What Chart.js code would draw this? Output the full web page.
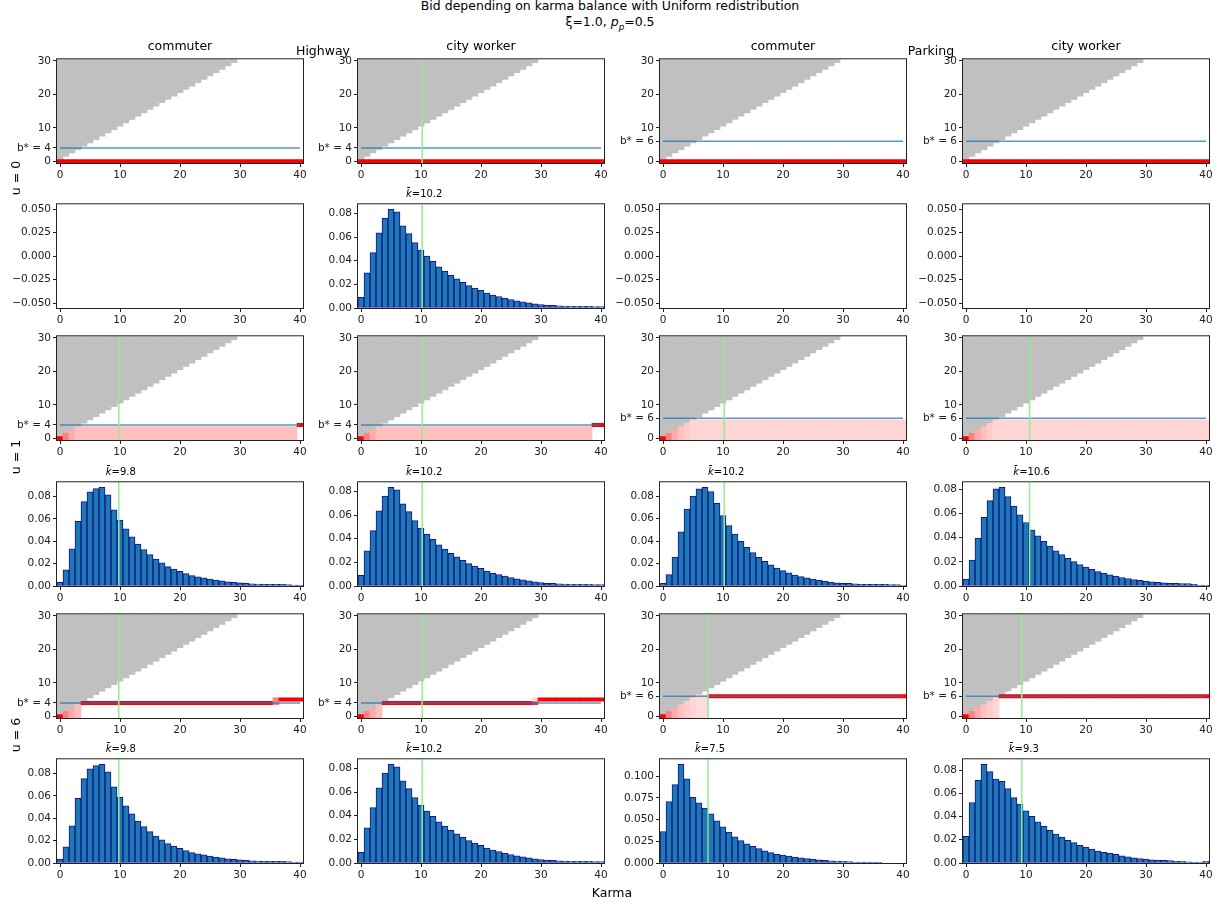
<!DOCTYPE html>
<html>
<head>
<meta charset="utf-8">
<script src="https://cdn.jsdelivr.net/npm/chart.js@4"></script>
<style>
  body { margin: 0; background: #fff; font-family: "DejaVu Sans", sans-serif; }
  #fig { position: relative; width: 1226px; height: 908px; overflow: hidden; }
  #fig canvas { position: absolute; }
  .txt { position: absolute; white-space: nowrap; color: #000; line-height: 1; z-index: 2; }
</style>
</head>
<body>
<div id="fig"></div>
<script>
// ---- data ----
const karma = [0, 1, 2, 3, 4, 5, 6, 7, 8, 9, 10, 11, 12, 13, 14, 15, 16, 17, 18, 19, 20,
               21, 22, 23, 24, 25, 26, 27, 28, 29, 30, 31, 32, 33, 34, 35, 36, 37, 38, 39, 40];
const maxBid = 30;
const xTicks = [0, 10, 20, 30, 40];
const groups = ['Highway', 'Parking'];
const userTypes = ['commuter', 'city worker', 'commuter', 'city worker'];
const urgencies = [0, 1, 6];
const bStar = [4, 4, 6, 6];

// mean karma (green line), null when there is no distribution
const meanKarma = [
  [null, 10.2, null, null],
  [9.8, 10.2, 10.2, 10.6],
  [9.8, 10.2, 7.5, 9.3]
];

// policy runs: [karma from, karma to, bid from, bid to, probability]
const policyU0 = [[0, 40, 0, 0, 1]];
const policyHighwayCommuterU1 = [[0, 0, 0, 0, 1], [1, 1, 0, 1, 0.5], [2, 2, 0, 2, 0.33], [3, 39, 0, 3, 0.25], [40, 40, 4, 4, 1]];
const policyHighwayCityWorkerU1 = [[0, 0, 0, 0, 1], [1, 1, 0, 1, 0.5], [2, 2, 0, 2, 0.33], [3, 38, 0, 3, 0.25], [39, 40, 4, 4, 1]];
const policyParkingU1 = [[0, 0, 0, 0, 1], [1, 1, 0, 1, 0.5], [2, 2, 0, 2, 0.33], [3, 3, 0, 3, 0.25], [4, 4, 0, 4, 0.2], [5, 40, 0, 5, 0.17]];
const policyHighwayCommuterU6 = [[0, 0, 0, 0, 1], [1, 1, 0, 1, 0.5], [2, 2, 0, 2, 0.33], [3, 3, 0, 3, 0.25], [4, 35, 4, 4, 1], [36, 36, 4, 5, 0.5], [37, 40, 5, 5, 1]];
const policyHighwayCityWorkerU6 = [[0, 0, 0, 0, 1], [1, 1, 0, 1, 0.5], [2, 2, 0, 2, 0.33], [3, 3, 0, 3, 0.25], [4, 28, 4, 4, 1], [29, 29, 4, 4, 0.85], [29, 29, 5, 5, 0.15], [30, 40, 5, 5, 1]];
const policyParkingCommuterU6 = [[0, 0, 0, 0, 1], [1, 1, 0, 1, 0.5], [2, 2, 0, 2, 0.33], [3, 3, 0, 3, 0.25], [4, 4, 0, 4, 0.2], [5, 5, 0, 5, 0.17], [6, 7, 0, 6, 0.14], [8, 40, 6, 6, 1]];
const policyParkingCityWorkerU6 = [[0, 0, 0, 0, 1], [1, 1, 0, 1, 0.5], [2, 2, 0, 2, 0.33], [3, 3, 0, 3, 0.25], [4, 4, 0, 4, 0.2], [5, 5, 0, 5, 0.17], [6, 40, 6, 6, 1]];

// karma distributions (one value per karma level)
const distHighwayCommuter = [0.0035, 0.0144, 0.0332, 0.0578, 0.0753, 0.0840, 0.0871, 0.0882, 0.0815, 0.0680, 0.0589,
  0.0511, 0.0439, 0.0375, 0.0326, 0.0280, 0.0240, 0.0208, 0.0173, 0.0150, 0.0130, 0.0110, 0.0092, 0.0081, 0.0072,
  0.0061, 0.0052, 0.0046, 0.0038, 0.0032, 0.0029, 0.0023, 0.0020, 0.0017, 0.0014, 0.0014, 0.0014, 0.0014, 0.0012, 0.0009, 0.0009];
const distHighwayCityWorker = [0.0091, 0.0298, 0.0469, 0.0637, 0.0761, 0.0836, 0.0814, 0.0695, 0.0629, 0.0554, 0.0491,
  0.0439, 0.0394, 0.0348, 0.0312, 0.0276, 0.0246, 0.0218, 0.0190, 0.0168, 0.0149, 0.0127, 0.0110, 0.0097, 0.0083,
  0.0072, 0.0061, 0.0052, 0.0044, 0.0036, 0.0030, 0.0025, 0.0022, 0.0019, 0.0017, 0.0014, 0.0014, 0.0014, 0.0014, 0.0011, 0.0011];
const distParkingCommuterU1 = [0.0023, 0.0101, 0.0257, 0.0482, 0.0684, 0.0800, 0.0864, 0.0878, 0.0840, 0.0736, 0.0627,
  0.0537, 0.0462, 0.0398, 0.0344, 0.0297, 0.0254, 0.0219, 0.0188, 0.0159, 0.0136, 0.0116, 0.0098, 0.0084, 0.0072,
  0.0061, 0.0052, 0.0043, 0.0035, 0.0029, 0.0026, 0.0023, 0.0020, 0.0014, 0.0014, 0.0014, 0.0014, 0.0014, 0.0012, 0.0012, 0.0006];
const distParkingCityWorkerU1 = [0.0057, 0.0215, 0.0396, 0.0568, 0.0706, 0.0803, 0.0816, 0.0738, 0.0660, 0.0587, 0.0525,
  0.0463, 0.0415, 0.0369, 0.0329, 0.0291, 0.0259, 0.0229, 0.0202, 0.0178, 0.0156, 0.0137, 0.0119, 0.0105, 0.0092,
  0.0081, 0.0070, 0.0062, 0.0054, 0.0046, 0.0040, 0.0035, 0.0030, 0.0027, 0.0024, 0.0022, 0.0019, 0.0019, 0.0013, 0.0008, 0.0005];
const distParkingCommuterU6 = [0.0363, 0.0708, 0.0903, 0.1139, 0.0970, 0.0757, 0.0693, 0.0633, 0.0566, 0.0487, 0.0416,
  0.0356, 0.0303, 0.0258, 0.0221, 0.0191, 0.0165, 0.0139, 0.0120, 0.0101, 0.0090, 0.0079, 0.0067, 0.0060, 0.0052,
  0.0045, 0.0037, 0.0030, 0.0026, 0.0022, 0.0019, 0.0015, 0.0011, 0.0011, 0.0011, 0.0011, 0.0007, 0, 0, 0, 0];
const distParkingCityWorkerU6 = [0.0229, 0.0521, 0.0711, 0.0850, 0.0786, 0.0722, 0.0702, 0.0641, 0.0563, 0.0507, 0.0449,
  0.0401, 0.0354, 0.0318, 0.0282, 0.0248, 0.0223, 0.0195, 0.0176, 0.0153, 0.0137, 0.0120, 0.0103, 0.0092, 0.0084,
  0.0075, 0.0061, 0.0053, 0.0045, 0.0039, 0.0033, 0.0028, 0.0025, 0.0022, 0.0020, 0.0017, 0.0014, 0.0011, 0.0008, 0.0008, 0.0014];

const panelPolicy = [
  [policyU0, policyU0, policyU0, policyU0],
  [policyHighwayCommuterU1, policyHighwayCityWorkerU1, policyParkingU1, policyParkingU1],
  [policyHighwayCommuterU6, policyHighwayCityWorkerU6, policyParkingCommuterU6, policyParkingCityWorkerU6]
];
const panelDist = [
  [null, distHighwayCityWorker, null, null],
  [distHighwayCommuter, distHighwayCityWorker, distParkingCommuterU1, distParkingCityWorkerU1],
  [distHighwayCommuter, distHighwayCityWorker, distParkingCommuterU6, distParkingCityWorkerU6]
];
const emptyTicks = [-0.05, -0.025, 0, 0.025, 0.05];

// ---- layout ----
const colLeft = [57, 358, 660, 963];
const heatTop = [57, 334, 612];
const histTop = [202, 480, 757];
const FRAME_W = 246, FRAME_H = 106;
const PAD_L = 60, PAD_T = 6, PAD_R = 12, PAD_B = 24;

Chart.defaults.font.family = '"DejaVu Sans", sans-serif';
Chart.defaults.color = '#222';

const fig = document.getElementById('fig');

function addText(html, x, baseline, size) {
  const d = document.createElement('div');
  d.className = 'txt';
  d.innerHTML = html;
  d.style.fontSize = size + 'px';
  d.style.left = x + 'px';
  d.style.top = (baseline - 0.846 * size) + 'px';
  d.style.transform = 'translateX(-50%)';
  fig.appendChild(d);
  return d;
}

function addCanvas(left, top) {
  const c = document.createElement('canvas');
  c.width = FRAME_W + PAD_L + PAD_R;
  c.height = FRAME_H + PAD_T + PAD_B;
  c.style.left = (left - PAD_L) + 'px';
  c.style.top = (top - PAD_T) + 'px';
  fig.appendChild(c);
  return c;
}

// box around the axes like matplotlib spines
const framePlugin = {
  id: 'frame',
  afterDatasetsDraw(chart) {
    const a = chart.chartArea, ctx = chart.ctx;
    ctx.save();
    ctx.strokeStyle = '#222';
    ctx.lineWidth = 1;
    ctx.strokeRect(a.left - 0.5, a.top - 0.5, a.right - a.left + 1, a.bottom - a.top + 1);
    ctx.restore();
  }
};

function xAxis() {
  return {
    type: 'linear', min: -0.5, max: 40.5, bounds: 'data', offset: false,
    grid: { drawOnChartArea: false, tickLength: 4, color: '#222', offset: false },
    border: { display: false },
    ticks: { autoSkip: false, maxRotation: 0, padding: 2, font: { size: 10.5 }, callback: v => String(v) },
    afterBuildTicks: s => { s.ticks = xTicks.map(v => ({ value: v })); },
    afterFit: s => { s.height = PAD_B; }
  };
}

function yAxis(min, max, ticks, fmt) {
  return {
    type: 'linear', min: min, max: max, bounds: 'data',
    grid: { drawOnChartArea: false, tickLength: 4, color: '#222' },
    border: { display: false },
    ticks: { autoSkip: false, padding: 2, font: { size: 10.5 }, callback: fmt },
    afterBuildTicks: s => { s.ticks = ticks.map(v => ({ value: v })); },
    afterFit: s => { s.width = PAD_L; }
  };
}

function baseOptions(yScale) {
  return {
    responsive: false, animation: false, devicePixelRatio: 1,
    layout: { padding: { top: PAD_T, right: PAD_R, left: 0, bottom: 0 } },
    plugins: { legend: { display: false }, tooltip: { enabled: false } },
    datasets: { bar: { grouped: false, barPercentage: 1, categoryPercentage: 1 } },
    scales: { x: xAxis(), y: yScale }
  };
}

// expand policy runs into heatmap cells
function policyCells(runs) {
  const cells = [], colors = [];
  runs.forEach(([k0, k1, b0, b1, p]) => {
    for (let k = k0; k <= k1; k++) {
      for (let b = b0; b <= b1; b++) {
        cells.push({ x: k, y: [b - 0.5, b + 0.5] });
        const c = Math.round(255 * (1 - p));
        colors.push('rgb(255,' + c + ',' + c + ')');
      }
    }
  });
  return { cells, colors };
}

function heatmap(row, col) {
  const bs = bStar[col];
  const mean = meanKarma[row][col];
  const pol = policyCells(panelPolicy[row][col]);
  const datasets = [
    {
      type: 'bar', order: 4, borderWidth: 0, backgroundColor: '#c0c0c0',
      data: karma.filter(k => k < maxBid).map(k => ({ x: k, y: [k + 0.5, maxBid + 0.5] }))
    },
    { type: 'bar', order: 3, borderWidth: 0, backgroundColor: pol.colors, data: pol.cells },
    {
      type: 'line', order: 2, borderColor: 'rgba(31,119,180,0.75)', borderWidth: 1.5, pointRadius: 0,
      data: [{ x: 0, y: bs }, { x: 40, y: bs }]
    }
  ];
  if (mean !== null) {
    datasets.push({
      type: 'line', order: 1, borderColor: '#90ee90', borderWidth: 1.5, pointRadius: 0,
      data: [{ x: mean, y: -0.5 }, { x: mean, y: maxBid + 0.5 }]
    });
  }
  const yTicks = [0, bs, 10, 20, 30];
  new Chart(addCanvas(colLeft[col], heatTop[row]), {
    type: 'bar',
    data: { datasets },
    options: baseOptions(yAxis(-0.5, maxBid + 0.5, yTicks, v => v === bs ? 'b* = ' + bs : String(v))),
    plugins: [framePlugin]
  });
}

function histogram(row, col) {
  const dist = panelDist[row][col];
  const mean = meanKarma[row][col];
  const canvas = addCanvas(colLeft[col], histTop[row]);
  if (!dist) {
    new Chart(canvas, {
      type: 'bar',
      data: { datasets: [{ data: [] }] },
      options: baseOptions(yAxis(-0.055, 0.055, emptyTicks, v => v.toFixed(3).replace('-', '\u2212'))),
      plugins: [framePlugin]
    });
    return;
  }
  const top = Math.max(...dist) * 1.05;
  const step = top > 0.1 ? 0.025 : 0.02;
  const ticks = [];
  for (let v = 0; v <= top + 1e-9; v += step) ticks.push(+v.toFixed(3));
  const chart = new Chart(canvas, {
    type: 'bar',
    data: {
      datasets: [
        {
          type: 'bar', order: 2, backgroundColor: '#1f77b4', borderColor: '#10168a',
          borderWidth: 1, borderSkipped: false,
          data: karma.map((k, i) => ({ x: k, y: dist[i] }))
        },
        {
          type: 'line', order: 1, borderColor: '#90ee90', borderWidth: 1.5, pointRadius: 0,
          data: [{ x: mean, y: 0 }, { x: mean, y: top }]
        }
      ]
    },
    options: baseOptions(yAxis(0, top, ticks, v => v.toFixed(step === 0.025 ? 3 : 2))),
    plugins: [framePlugin]
  });
  const px = colLeft[col] - PAD_L + chart.scales.x.getPixelForValue(mean);
  addText('<i>k\u0304</i>=' + mean, px + 2, histTop[row] - 5, 10);
}

urgencies.forEach((u, row) => {
  for (let col = 0; col < 4; col++) {
    heatmap(row, col);
    histogram(row, col);
  }
});

// ---- figure texts ----
addText('Bid depending on karma balance with Uniform redistribution', 610, 11, 12.5);
addText('\u03be=1.0, <i>p</i><sub style="font-size:0.7em"><i>p</i></sub>=0.5', 610, 27, 12.5);
userTypes.forEach((t, col) => addText(t, colLeft[col] + FRAME_W / 2, 51, 12.5));
addText(groups[0], 323, 56, 12.5);
addText(groups[1], 931, 56, 12.5);
addText('Karma', 612, 898, 12.5);

const rowCenter = [178, 457, 735];
urgencies.forEach((u, row) => {
  const d = document.createElement('div');
  d.className = 'txt';
  d.textContent = 'u = ' + u;
  d.style.fontSize = '12.5px';
  d.style.left = '16px';
  d.style.top = rowCenter[row] + 'px';
  d.style.transform = 'translate(-50%, -50%) rotate(-90deg)';
  fig.appendChild(d);
});
</script>
</body>
</html>
